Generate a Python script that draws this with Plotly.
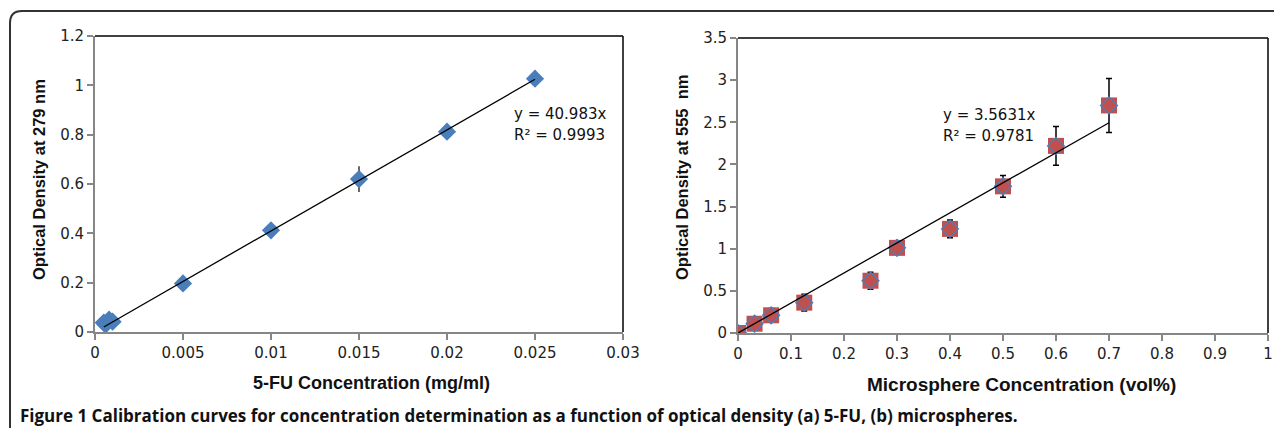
import plotly.graph_objects as go

PAGE_W, PAGE_H = 1282, 436
BODY = 8  # default page margin around the figure
W, H = PAGE_W - 2 * BODY, PAGE_H - 2 * BODY

# ---- data: left (5-FU) ----
fu_conc = [0.0005, 0.0006, 0.0008, 0.001, 0.005, 0.01, 0.015, 0.02, 0.025]
fu_od = [0.038, 0.030, 0.050, 0.042, 0.197, 0.412, 0.620, 0.812, 1.027]
fu_err = [0, 0, 0, 0, 0, 0, 0.052, 0, 0]
fu_slope = 40.983
fu_fit_x = [0.0005, 0.025]
fu_eq = "y = 40.983x"
fu_r2 = "R² = 0.9993"

# ---- data: right (microspheres) ----
ms_conc = [0, 0.03125, 0.0625, 0.125, 0.25, 0.3, 0.4, 0.5, 0.6, 0.7]
ms_od = [0.0, 0.11, 0.21, 0.36, 0.62, 1.01, 1.235, 1.74, 2.22, 2.70]
ms_err = [0.01, 0.02, 0.08, 0.10, 0.10, 0.02, 0.105, 0.13, 0.23, 0.32]
ms_slope = 3.5631
ms_fit_x = [0, 0.7]
ms_eq = "y = 3.5631x"
ms_r2 = "R² = 0.9781"

caption_bold = "Figure 1"
caption_rest = ("Calibration curves for concentration determination as a function of optical density "
                "(a) 5-FU, (b) microspheres.")

blue = "#4A7EBB"
red = "#C0504D"
axis_gray = "#868686"
tick_fam = "DejaVu Sans, sans-serif"
lib = "Liberation Sans, Arial, sans-serif"

fig = go.Figure()

# Left chart
fig.add_trace(go.Scatter(
    x=fu_conc, y=fu_od, mode="markers", xaxis="x", yaxis="y",
    marker=dict(symbol="diamond", size=14, color=blue),
    error_y=dict(type="data", array=fu_err, visible=True, color="black", thickness=1.2, width=0),
    showlegend=False))
fig.add_trace(go.Scatter(
    x=fu_fit_x, y=[fu_slope * v for v in fu_fit_x], mode="lines", xaxis="x", yaxis="y",
    line=dict(color="black", width=1.3), showlegend=False))

# Right chart
fig.add_trace(go.Scatter(
    x=ms_conc, y=ms_od, mode="markers", xaxis="x2", yaxis="y2",
    marker=dict(symbol="square", size=16, color=red),
    error_y=dict(type="data", array=ms_err, visible=True, color="black", thickness=1.5, width=3),
    showlegend=False))
fig.add_trace(go.Scatter(
    x=ms_conc, y=ms_od, mode="markers", xaxis="x2", yaxis="y2",
    marker=dict(symbol="diamond-open", size=13, color=blue, line=dict(width=1.3, color=blue)),
    showlegend=False))
fig.add_trace(go.Scatter(
    x=ms_fit_x, y=[ms_slope * v for v in ms_fit_x], mode="lines", xaxis="x2", yaxis="y2",
    line=dict(color="black", width=1.3), showlegend=False))


def px_x(p):
    return (p - BODY) / W


def px_y(p):
    return 1 - (p - BODY) / H


axis_common = dict(
    automargin=False,
    showgrid=False, zeroline=False, showline=True, linecolor=axis_gray, linewidth=2,
    ticks="outside", ticklen=6, tickcolor=axis_gray, tickwidth=1.5,
    tickfont=dict(family=tick_fam, size=15, color="#222"),
)

fig.update_layout(
    width=W, height=H, margin=dict(l=0, r=0, t=0, b=0, autoexpand=False),
    paper_bgcolor="white", plot_bgcolor="white",
    xaxis=dict(domain=[px_x(95), px_x(623)], range=[0, 0.03], tickvals=[0, 0.005, 0.01, 0.015, 0.02, 0.025, 0.03],
               ticktext=["0", "0.005", "0.01", "0.015", "0.02", "0.025", "0.03"], anchor="y", **axis_common),
    yaxis=dict(domain=[px_y(332), px_y(36)], range=[0, 1.2], tickvals=[0, 0.2, 0.4, 0.6, 0.8, 1, 1.2],
               ticktext=["0", "0.2", "0.4", "0.6", "0.8", "1", "1.2"], anchor="x", **axis_common),
    xaxis2=dict(domain=[px_x(738), px_x(1268)], range=[0, 1], tickvals=[i / 10 for i in range(11)],
                ticktext=["0", "0.1", "0.2", "0.3", "0.4", "0.5", "0.6", "0.7", "0.8", "0.9", "1"],
                anchor="y2", **axis_common),
    yaxis2=dict(domain=[px_y(333), px_y(38)], range=[0, 3.5], tickvals=[0, 0.5, 1, 1.5, 2, 2.5, 3, 3.5],
                ticktext=["0", "0.5", "1", "1.5", "2", "2.5", "3", "3.5"], anchor="x2", **axis_common),
)

shapes = []
# top & right borders of plot areas (black)
for xr, yr in (("x", "y"), ("x2", "y2")):
    shapes.append(dict(type="line", xref=f"{xr} domain", yref=f"{yr} domain", x0=0, x1=1, y0=1, y1=1,
                       line=dict(color="black", width=1.5)))
    shapes.append(dict(type="line", xref=f"{xr} domain", yref=f"{yr} domain", x0=1, x1=1, y0=0, y1=1,
                       line=dict(color="black", width=1.5)))
# outer rounded frame
r = 12
x0, y0 = 10, 11
path = (f"M {px_x(x0)},{px_y(PAGE_H + 30)} L {px_x(x0)},{px_y(y0 + r)} "
        f"Q {px_x(x0)},{px_y(y0)} {px_x(x0 + r)},{px_y(y0)} L {px_x(PAGE_W + 30)},{px_y(y0)}")
shapes.append(dict(type="path", xref="paper", yref="paper", path=path, line=dict(color="#333", width=2)))
fig.update_layout(shapes=shapes)

ann_font = dict(family=tick_fam, size=15, color="#111")
annotations = [
    dict(xref="paper", yref="paper", x=px_x(512), y=px_y(114), text=fu_eq, showarrow=False,
         xanchor="left", yanchor="middle", font=ann_font),
    dict(xref="paper", yref="paper", x=px_x(512), y=px_y(135), text=fu_r2, showarrow=False,
         xanchor="left", yanchor="middle", font=ann_font),
    dict(xref="paper", yref="paper", x=px_x(941), y=px_y(115), text=ms_eq, showarrow=False,
         xanchor="left", yanchor="middle", font=ann_font),
    dict(xref="paper", yref="paper", x=px_x(941), y=px_y(136), text=ms_r2, showarrow=False,
         xanchor="left", yanchor="middle", font=ann_font),
    # axis titles
    dict(xref="paper", yref="paper", x=px_x(371), y=px_y(383), text="<b>5-FU Concentration (mg/ml)</b>",
         showarrow=False, xanchor="center", yanchor="middle", font=dict(family=lib, size=18, color="#111")),
    dict(xref="paper", yref="paper", x=px_x(39), y=px_y(180), text="<b>Optical Density at 279 nm</b>",
         showarrow=False, xanchor="center", yanchor="middle", textangle=-90,
         font=dict(family=lib, size=16.5, color="#111")),
    dict(xref="paper", yref="paper", x=px_x(1021), y=px_y(384), text="<b>Microsphere Concentration (vol%)</b>",
         showarrow=False, xanchor="center", yanchor="middle", font=dict(family=lib, size=19, color="#111")),
    dict(xref="paper", yref="paper", x=px_x(682), y=px_y(178), text="<b>Optical Density at 555  nm</b>",
         showarrow=False, xanchor="center", yanchor="middle", textangle=-90,
         font=dict(family=lib, size=16.5, color="#111")),
    # caption
    dict(xref="paper", yref="paper", x=px_x(19), y=px_y(415.5),
         text=f"<b>{caption_bold}</b> {caption_rest}",
         showarrow=False, xanchor="left", yanchor="middle", borderpad=0,
         font=dict(family="Open Sans, sans-serif", size=17, color="#111", weight=700)),
]
fig.update_layout(annotations=annotations)

fig.write_html("out.html", config={"displayModeBar": False})
